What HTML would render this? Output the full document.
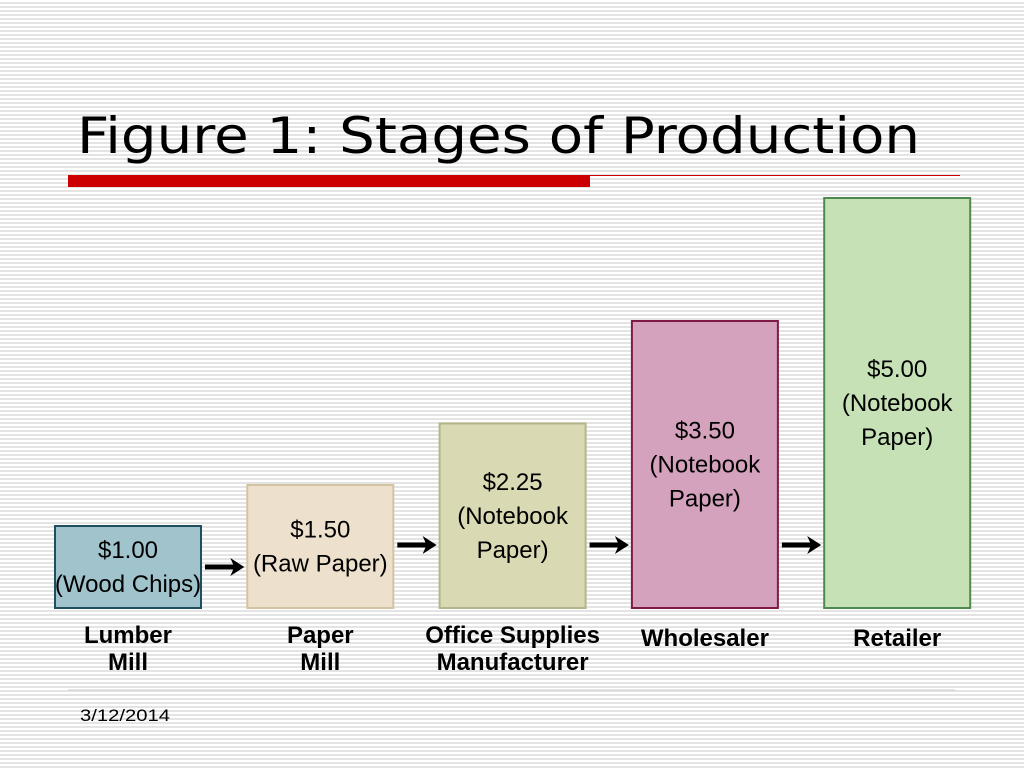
<!DOCTYPE html>
<html><head><meta charset="utf-8"><style>
body{margin:0;width:1024px;height:768px;overflow:hidden;font-family:"Liberation Sans",sans-serif;
background:repeating-linear-gradient(to bottom,#fff 0px,#fff 2px,#e4e4e4 2px,#e4e4e4 4px);}
</style></head><body>
<svg width="1024" height="768" id="c" style="position:absolute;left:0;top:0">
<text x="77" y="153" font-size="50" fill="#000" textLength="843" lengthAdjust="spacingAndGlyphs" font-family="DejaVu Sans, sans-serif">Figure 1:  Stages of Production</text>
<rect x="68" y="175" width="522" height="12" fill="#cc0000"/>
<line x1="590" y1="175.5" x2="960" y2="175.5" stroke="#cc0000" stroke-width="1"/>
<line x1="68" y1="690" x2="955" y2="690" stroke="#cccccc" stroke-width="1"/>
<text x="80" y="721" font-size="17" fill="#000" textLength="90" lengthAdjust="spacingAndGlyphs">3/12/2014</text>
</svg>
<script>
const categories=[["Lumber","Mill"],["Paper","Mill"],["Office Supplies","Manufacturer"],["Wholesaler"],["Retailer"]];
const values=[1.00,1.50,2.25,3.50,5.00];
const productLabels=[["(Wood Chips)"],["(Raw Paper)"],["(Notebook","Paper)"],["(Notebook","Paper)"],["(Notebook","Paper)"]];
const fills=["#a0c3cc","#ede0cc","#d9d9b4","#d4a2bd","#c5e1b5"];
const strokes=["#1f4e5e","#d3c3a0","#b5b58a","#7f1a44","#4e8a4e"];
const svg=document.getElementById('c'),NS="http://www.w3.org/2000/svg";
const base=608,scale=82,x0=55,step=192.3,bw=146;
function y(v){return base-v*scale;}
function mk(t,a){const e=document.createElementNS(NS,t);for(const k in a)e.setAttribute(k,a[k]);svg.appendChild(e);return e;}
values.forEach((v,i)=>{
 const x=x0+i*step,top=y(v),cx=x+bw/2;
 const r=mk('rect',{x:x,y:top,width:bw,height:base-top,fill:fills[i],stroke:strokes[i],'stroke-width':2});
 
 
 const lines=['$'+v.toFixed(2)].concat(productLabels[i]);
 const mid=(top+base)/2;
 const ty=mid-(lines.length-1)*17+8;
 lines.forEach((s,j)=>{
  const t=mk('text',{x:cx,y:ty+j*34,'font-size':24,'text-anchor':'middle',fill:'#000'});t.textContent=s;
  
  
 });
 categories[i].forEach((s,j)=>{
  const t=mk('text',{x:cx,y:(categories[i].length==1?646:643)+j*27,'font-size':24,'font-weight':'bold','text-anchor':'middle',fill:'#000'});t.textContent=s;
  
  
 });
 if(i>0){
  const xs=x0+(i-1)*step+bw+4,xe=x-3,ay=i==1?567:545;
  const g=mk('g',{});
  
  
  const l=document.createElementNS(NS,'line');l.setAttribute('x1',xs);l.setAttribute('x2',xe-10);l.setAttribute('y1',ay);l.setAttribute('y2',ay);l.setAttribute('stroke','#000');l.setAttribute('stroke-width',5);g.appendChild(l);
  const p=document.createElementNS(NS,'polygon');p.setAttribute('points',`${xe-14},${ay-9} ${xe},${ay} ${xe-14},${ay+9} ${xe-10},${ay}`);p.setAttribute('fill','#000');g.appendChild(p);
 }
});
</script>
</body></html>
